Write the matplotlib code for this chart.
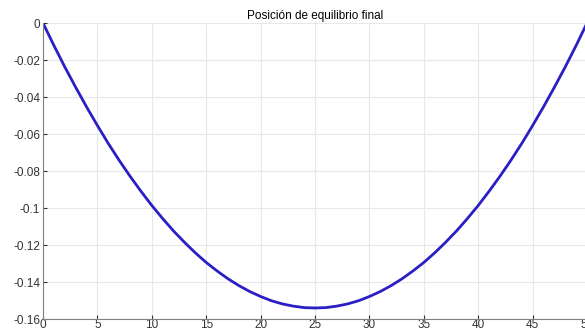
import matplotlib
matplotlib.use('Agg')
import matplotlib.pyplot as plt

plt.rcParams['font.family'] = ['Liberation Sans', 'DejaVu Sans']

# posiciones a lo largo de la cuerda (0..50) y desplazamiento vertical
x_pos = list(range(51))
y_pos = [0, -0.0121, -0.0237, -0.0347, -0.0453, -0.0554, -0.0651, -0.0742, -0.0828, -0.0909,
         -0.0986, -0.1057, -0.1124, -0.1185, -0.1242, -0.1294, -0.1340, -0.1382, -0.1419, -0.1451,
         -0.1478, -0.1501, -0.1518, -0.1530, -0.1538, -0.1540, -0.1538, -0.1530, -0.1518, -0.1501,
         -0.1478, -0.1451, -0.1419, -0.1382, -0.1340, -0.1294, -0.1242, -0.1185, -0.1124, -0.1057,
         -0.0986, -0.0909, -0.0828, -0.0742, -0.0651, -0.0554, -0.0453, -0.0347, -0.0237, -0.0121, 0]
x_ticks = [0, 5, 10, 15, 20, 25, 30, 35, 40, 45, 50]
y_ticks = [0, -0.02, -0.04, -0.06, -0.08, -0.1, -0.12, -0.14, -0.16]
y_labels = ['0', '-0.02', '-0.04', '-0.06', '-0.08', '-0.1', '-0.12', '-0.14', '-0.16']

fig = plt.figure(figsize=(5.85, 3.31), dpi=100)
ax = fig.add_axes([0.0735, 0.036, 0.93, 0.8945])

ax.plot(x_pos, y_pos, color='#2a1fc4', linewidth=2)

ax.set_xlim(0, 50)
ax.set_ylim(-0.16, 0)
ax.set_xticks(x_ticks)
ax.set_yticks(y_ticks)
ax.set_yticklabels(y_labels)
ax.grid(True, color='#e8e8e8', linewidth=0.8)
ax.set_axisbelow(True)

for s in ['top', 'right']:
    ax.spines[s].set_visible(False)
for s in ['left', 'bottom']:
    ax.spines[s].set_color('#808080')
ax.tick_params(direction='in', length=3, labelsize=8.5, colors='#333333', pad=2)
ax.tick_params(axis='x', pad=0)

ax.set_title('Posición de equilibrio final', fontsize=8.5, pad=3)

fig.savefig('out.png', dpi=100)
